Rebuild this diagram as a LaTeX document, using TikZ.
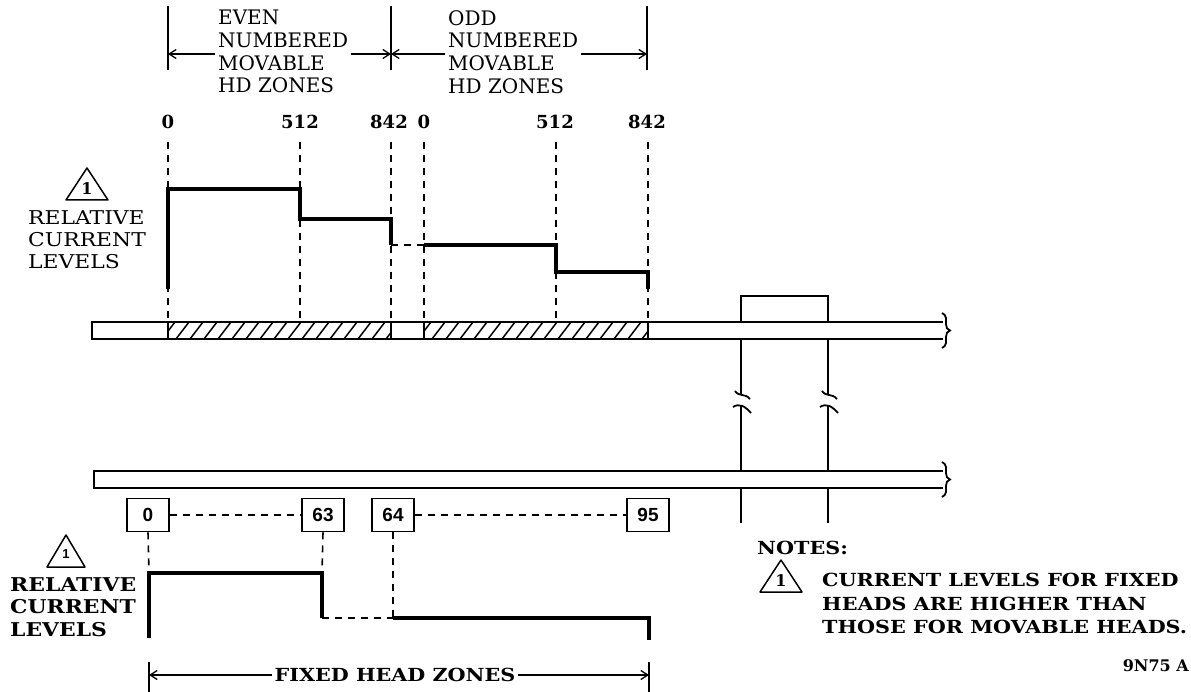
\documentclass[tikz,border=0pt]{standalone}
\usepackage{fontspec}
\setmainfont{DejaVu Serif}
\newfontfamily\boxfont{Liberation Sans}
\newfontfamily\widefont[FakeStretch=1.15]{DejaVu Serif}
\usetikzlibrary{arrows.meta,positioning}

\tikzset{
  txt/.style={font=\fontsize{20}{22.7}\selectfont,align=left,inner sep=0pt},
  wtxt/.style={font=\widefont\fontsize{19}{22}\selectfont,align=left,inner sep=0pt},
  btxt/.style={font=\widefont\fontsize{18}{23.5}\selectfont\bfseries,align=left,inner sep=0pt},
  num/.style={font=\fontsize{18}{20}\selectfont\bfseries,inner sep=0pt},
  zonebox/.style={draw,line width=1.6pt,minimum width=42pt,minimum height=33pt,inner sep=0pt,
    font=\boxfont\bfseries\fontsize{19}{20}\selectfont},
  dim/.style={line width=1.3pt},
  guide/.style={line width=1.6pt,dash pattern=on 7pt off 6pt},
  level/.style={line width=3.2pt},
  bar/.style={line width=1.8pt},
  warn/.style={line width=1.5pt,line join=round}
}

\begin{document}
\begin{tikzpicture}[x=1pt,y=-1pt,>={Straight Barb[length=7pt,width=9pt]}]
  \useasboundingbox (0,0) rectangle (1191,692);
  % zone headings over the movable heads
  \coordinate (eA) at (168,54); \coordinate (eB) at (391,54); \coordinate (eC) at (647,54);
  \foreach \c in {eA,eB,eC} \draw[dim] ([yshift=-16pt]\c) -- ([yshift=48pt]\c);
  \draw[dim,<->] (eA) -- (eB);
  \draw[dim,<->] (eB) -- (eC);
  \node[txt,anchor=north west,fill=white,inner xsep=3pt] (even) at (215,10) {EVEN\\NUMBERED\\MOVABLE\\HD ZONES};
  \node[txt,anchor=north west,fill=white,inner xsep=3pt] (odd) at (445,10) {ODD\\NUMBERED\\MOVABLE\\HD ZONES};
  % head numbers
  \node[num] (m0) at (168,122) {0};
  \node[num] (m1) at (300,122) {512};
  \node[num] (m2) at (389,122) {842};
  \node[num] (m3) at (424,122) {0};
  \node[num] (m4) at (555,122) {512};
  \node[num] (m5) at (647,122) {842};
  \foreach \x in {168,300,391,424,556,648} \draw[guide] (\x,142) -- (\x,322);
  % movable head current levels
  \draw[level] (168,289) -- (168,189) -- (300,189) -- (300,219) -- (391,219) -- (391,245);
  \draw[guide] (391,245) -- (424,245);
  \draw[level] (424,245) -- (556,245) -- (556,272) -- (648,272) -- (648,289);
  \draw[warn] (66,200) -- (87,168) -- (108,200) -- cycle;
  \node[num,font=\fontsize{16}{16}\selectfont\bfseries] (w1) at (87,189) {1};
  \node[wtxt,anchor=north west] (rel1) at (28,210) {RELATIVE\\CURRENT\\LEVELS};
  % upper disk track with hatched movable zones
  \foreach \a/\b in {168/391,424/648}{
    \begin{scope}
      \clip (\a,322) rectangle (\b,339);
      \foreach \h in {0,14,...,240} \draw[line width=1.5pt] (\a+\h-6,339) -- ++(13,-17);
    \end{scope}
    \draw[bar] (\a,322) -- (\a,339);
    \draw[bar] (\b,322) -- (\b,339);
  }
  \draw[bar] (943,322) -- (92,322) -- (92,339) -- (943,339);
  \draw[bar] (942,313) .. controls (947,315) and (946,320) .. (946,324) .. controls (946,327) and (947,330) .. (950,330.5)
     .. controls (947,331) and (946,334) .. (946,337) .. controls (946,341) and (947,346) .. (942,348);
  % fixed head block and leads (broken)
  \draw[bar] (741,322) -- (741,296) -- (828,296) -- (828,322);
  \foreach \x in {741,828}{
    \draw[bar] (\x,339) -- (\x,394);
    \draw[bar] (\x-6,391) .. controls (\x-2,397) and (\x+4,393) .. (\x+9,399);
    \draw[bar] (\x-8,407) .. controls (\x-2,403) and (\x+4,406) .. (\x+10,413);
    \draw[bar] (\x,405) -- (\x,471);
    \draw[bar] (\x,488) -- (\x,523);
  }
  % lower disk track
  \draw[bar] (943,471) -- (94,471) -- (94,488) -- (943,488);
  \draw[bar] (942,462) .. controls (947,464) and (946,469) .. (946,473) .. controls (946,476) and (947,479) .. (950,479.5)
     .. controls (947,480) and (946,483) .. (946,486) .. controls (946,490) and (947,495) .. (942,497);
  % fixed head zone boxes
  \node[zonebox] (z0) at (148,515) {0};
  \node[zonebox] (z63) at (323,515) {63};
  \node[zonebox] (z64) at (393,515) {64};
  \node[zonebox] (z95) at (648,515) {95};
  \draw[guide] (z0) -- (z63);
  \draw[guide] (z64) -- (z95);
  \draw[guide] (z0.south) -- (149,573);
  \draw[guide] (z63.south) -- (322,573);
  \draw[guide] (z64.south) -- (393,618);
  % fixed head current levels
  \draw[level] (149,638) -- (149,573) -- (322,573) -- (322,618);
  \draw[guide] (322,618) -- (393,618);
  \draw[level] (393,618) -- (649,618) -- (649,640);
  \draw[warn] (47,567) -- (66,535) -- (85,567) -- cycle;
  \node[font=\boxfont\bfseries\fontsize{13}{13}\selectfont,inner sep=0pt] (w2) at (66,554) {1};
  \node[btxt,font=\widefont\fontsize{19}{22.5}\selectfont\bfseries,anchor=north west] (rel2) at (10,577) {RELATIVE\\CURRENT\\LEVELS};
  % fixed head zones dimension
  \coordinate (fA) at (149,675); \coordinate (fB) at (649,675);
  \foreach \c in {fA,fB} \draw[dim] ([yshift=-27pt]\c) -- ([yshift=13pt]\c);
  \draw[dim,<->] (fA) -- (fB);
  \node[btxt,fill=white,inner xsep=3pt] (fixed) at (395,675) {FIXED HEAD ZONES};
  % notes
  \node[btxt,anchor=west] (notes) at (757,548) {NOTES:};
  \draw[warn] (760,592) -- (781,560) -- (802,592) -- cycle;
  \node[num,font=\fontsize{16}{16}\selectfont\bfseries] (w3) at (781,581) {1};
  \node[btxt,anchor=north west] (note1) at (822,573) {CURRENT LEVELS FOR FIXED\\HEADS ARE HIGHER THAN\\THOSE FOR MOVABLE HEADS.};
  \node[num,font=\fontsize{16}{16}\selectfont\bfseries,anchor=east] (fig) at (1189,666) {9N75 A};
\end{tikzpicture}
\end{document}
